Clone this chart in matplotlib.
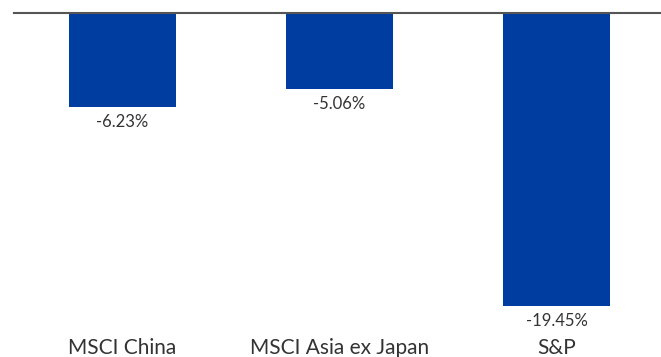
import numpy as np
import matplotlib.pyplot as plt

categories = ["MSCI China", "MSCI Asia ex Japan", "S&P"]
returns = [-6.23, -5.06, -19.45]

bar_color = "#003DA1"
text_color = "#333333"

plt.rcParams['font.family'] = ['Lato', 'DejaVu Sans']

fig = plt.figure(figsize=(6.61, 3.57), dpi=100)
# axes spans from the zero line (top) down to just above the category labels
ax = fig.add_axes([14 / 661, 1 - 320 / 357, 1 - 14 / 661, (320 - 13) / 357])

x = np.arange(len(categories))
bars = ax.bar(x, returns, width=0.493, color=bar_color)

for xi, val in zip(x, returns):
    ax.annotate(f"{val:.2f}%", (xi, val), xytext=(0, -5), textcoords="offset points",
                ha="center", va="top", fontsize=12, color=text_color)

ax.set_xlim(-0.5, 2.4816)
ax.set_ylim(-20.385, 0)

ax.set_xticks(x)
ax.set_xticklabels(categories, fontsize=15, color=text_color)
ax.tick_params(axis="x", length=0, pad=13)
ax.set_yticks([])

for side in ["left", "right", "bottom"]:
    ax.spines[side].set_visible(False)
ax.spines["top"].set_color("#555555")
ax.spines["top"].set_linewidth(1.5)

fig.savefig("out.png", dpi=100)
